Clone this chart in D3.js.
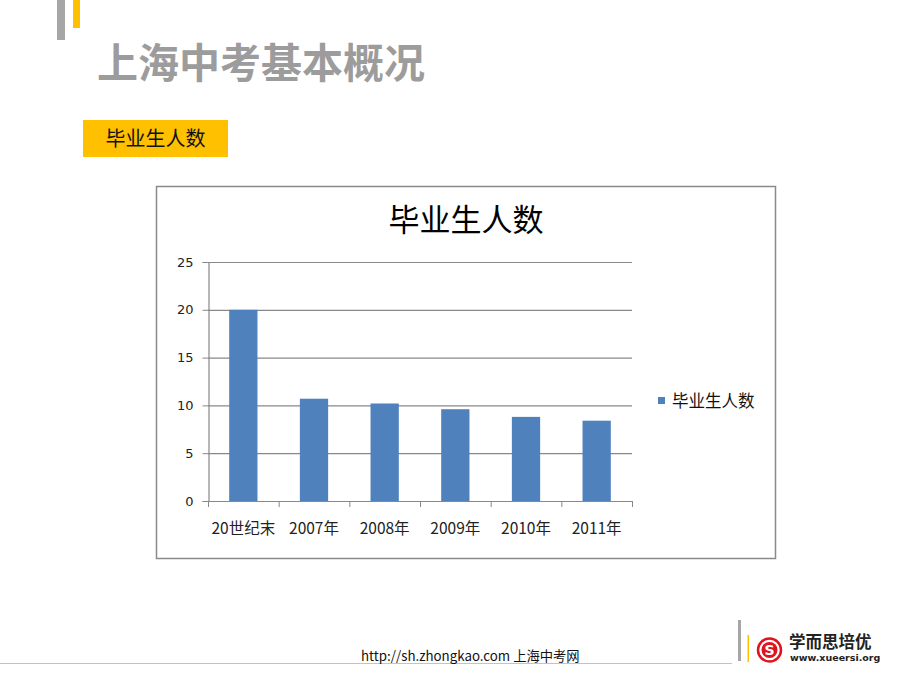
<!DOCTYPE html>
<html><head><meta charset="utf-8">
<script src="https://cdn.jsdelivr.net/npm/d3@7"></script>
<style>body{margin:0;background:#fff;}svg{display:block;}</style>
</head><body>
<script>
const categories = ["20世纪末","2007年","2008年","2009年","2010年","2011年"];
const values = [20, 10.7, 10.2, 9.6, 8.8, 8.4];
const yTicks = [0,5,10,15,20,25];
const seriesName = "毕业生人数";
const pageTitle = "上海中考基本概况";
const cjk = "'Noto Sans CJK SC','Noto Sans',sans-serif";

const svg = d3.select("body").append("svg").attr("width",920).attr("height",690);

// decorative bars
svg.append("rect").attr("x",57).attr("y",0).attr("width",8).attr("height",40).attr("fill","#a6a6a6");
svg.append("rect").attr("x",73).attr("y",0).attr("width",7).attr("height",28).attr("fill","#ffc000");

svg.append("text").attr("x",97).attr("y",78).text(pageTitle)
  .attr("font-family",cjk).attr("font-weight","bold").attr("font-size",41).attr("fill","#9c9c9c");

svg.append("rect").attr("x",83).attr("y",120).attr("width",145).attr("height",37).attr("fill","#ffc000");
svg.append("text").attr("x",155.5).attr("y",146).attr("text-anchor","middle").text(seriesName)
  .attr("font-family",cjk).attr("font-size",20).attr("fill","#111");

// chart box
svg.append("rect").attr("x",156.5).attr("y",186.5).attr("width",619).attr("height",372)
  .attr("fill","#fff").attr("stroke","#8a8a8a").attr("stroke-width",1.5);

svg.append("text").attr("x",466).attr("y",231).attr("text-anchor","middle").text(seriesName)
  .attr("font-family",cjk).attr("font-weight","normal").attr("font-size",31).attr("fill","#000");

const x = d3.scaleBand().domain(categories).range([208,632]).paddingInner(0.6).paddingOuter(0.3);
const y = d3.scaleLinear().domain([0,25]).range([501,262]);

// gridlines
svg.append("g").selectAll("line").data(yTicks.filter(d=>d>0)).join("line")
  .attr("x1",208).attr("x2",632).attr("y1",d=>y(d)+0.5).attr("y2",d=>y(d)+0.5)
  .attr("stroke","#888").attr("stroke-width",1.2);

// bars
svg.append("g").selectAll("rect").data(values).join("rect")
  .attr("x",(d,i)=>x(categories[i])).attr("width",x.bandwidth())
  .attr("y",d=>y(d)).attr("height",d=>y(0)-y(d)).attr("fill","#4f81bd");

// y axis
const yAxis = svg.append("g").attr("transform","translate(208.5,0)")
  .call(d3.axisLeft(y).tickValues(yTicks).tickSize(6).tickPadding(9));
yAxis.select(".domain").attr("stroke","#888").attr("stroke-width",1.2);
yAxis.selectAll(".tick line").attr("stroke","#888");
yAxis.selectAll("text").attr("font-family","'DejaVu Sans',sans-serif").attr("font-size",13).attr("fill","#222");

// x axis with boundary ticks
const xg = svg.append("g");
xg.append("line").attr("x1",203).attr("x2",632).attr("y1",501.5).attr("y2",501.5).attr("stroke","#888").attr("stroke-width",1.2);
const step = (x.range()[1]-x.range()[0])/categories.length;
xg.selectAll("line.t").data(d3.range(categories.length+1)).join("line").attr("class","t")
  .attr("x1",i=>208+i*step+0.5).attr("x2",i=>208+i*step+0.5).attr("y1",501).attr("y2",507).attr("stroke","#888");
xg.selectAll("text").data(categories).join("text")
  .attr("x",d=>x(d)+x.bandwidth()/2).attr("y",534).attr("text-anchor","middle").text(d=>d)
  .attr("font-family",cjk).attr("font-size",15.5).attr("fill","#222");

// legend
svg.append("rect").attr("x",658).attr("y",397).attr("width",7).attr("height",7).attr("fill","#4f81bd");
svg.append("text").attr("x",672).attr("y",407).text(seriesName)
  .attr("font-family",cjk).attr("font-size",16.5).attr("fill","#111");

// footer
svg.append("line").attr("x1",0).attr("x2",732).attr("y1",663.5).attr("y2",663.5).attr("stroke","#c8c0c8").attr("stroke-width",1.2);
svg.append("text").attr("x",361).attr("y",661).text("http://sh.zhongkao.com 上海中考网")
  .attr("font-family",cjk).attr("font-size",13.3).attr("fill","#111");
svg.append("rect").attr("x",738).attr("y",620).attr("width",3).attr("height",41).attr("fill","#a6a6a6");
svg.append("rect").attr("x",747.5).attr("y",635).attr("width",1.5).attr("height",27).attr("fill","#ffc000");
svg.append("circle").attr("cx",769.5).attr("cy",650).attr("r",11.5).attr("fill","none").attr("stroke","#e0141e").attr("stroke-width",2.5);
svg.append("circle").attr("cx",769.5).attr("cy",650).attr("r",8).attr("fill","#e0141e");
svg.append("text").attr("x",769.5).attr("y",655).attr("text-anchor","middle").text("S")
  .attr("font-family","'DejaVu Sans',sans-serif").attr("font-weight","bold").attr("font-size",14).attr("fill","#fff");
svg.append("text").attr("x",789).attr("y",648).text("学而思培优")
  .attr("font-family",cjk).attr("font-weight","bold").attr("font-size",16.5).attr("fill","#222");
svg.append("text").attr("x",790).attr("y",660.5).text("www.xueersi.org")
  .attr("font-family","'DejaVu Sans',sans-serif").attr("font-weight","bold").attr("font-size",9.5).attr("fill","#222");
</script>
</body></html>
